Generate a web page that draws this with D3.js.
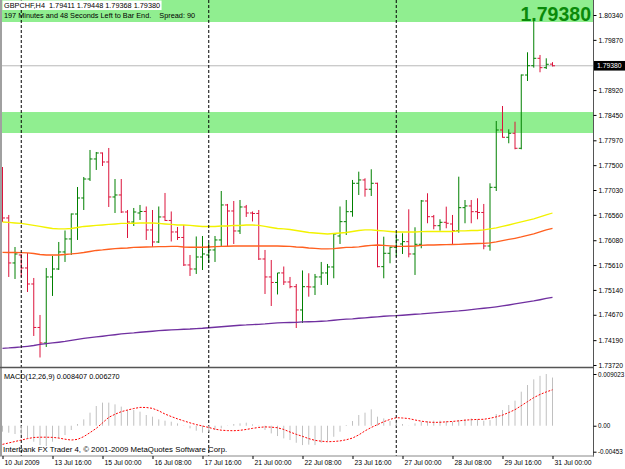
<!DOCTYPE html>
<html>
<head>
<meta charset="UTF-8">
<title>GBPCHF,H4</title>
<script src="https://cdn.jsdelivr.net/npm/d3@7"></script>
<style>
  body { margin: 0; background: #fff; }
  svg text { font-family: "Liberation Sans", Arial, sans-serif; white-space: pre; }
</style>
</head>
<body>
<svg id="chart" width="625" height="469"></svg>
<script>
// H4 bars, 10 Jul 2009 .. 31 Jul 2009 00:00 (89 bars)
var opens = [1.77371,1.76501,1.75650,1.75801,1.75555,1.75252,1.74430,1.74137,1.75385,1.75536,
  1.75858,1.76104,1.76576,1.76879,1.77238,1.77617,1.77730,1.77560,1.76898,1.76936,
  1.76614,1.76425,1.76595,1.76624,1.76274,1.76047,1.76520,1.76454,1.76236,1.76132,
  1.75612,1.75536,1.75763,1.75801,1.75896,1.76085,1.76747,1.76633,1.76255,1.76709,
  1.76595,1.76586,1.75725,1.75385,1.75281,1.75461,1.75290,1.75201,1.74761,1.75201,
  1.75196,1.75385,1.75461,1.75574,1.76160,1.76431,1.76620,1.77157,1.77220,1.77044,
  1.77157,1.75580,1.75833,1.75947,1.76009,1.76053,1.75820,1.76003,1.76822,1.76525,
  1.76355,1.76419,1.76387,1.76261,1.76696,1.76728,1.76620,1.76605,1.75971,1.77081,
  1.78165,1.78027,1.78103,1.77819,1.79205,1.79381,1.79521,1.79344,1.79411];
var highs = [1.77465,1.76558,1.75952,1.75820,1.75839,1.75366,1.74666,1.75555,1.75782,1.76047,
  1.76264,1.76586,1.77087,1.77276,1.77787,1.77749,1.77740,1.77825,1.77238,1.77238,
  1.76652,1.76690,1.76747,1.76718,1.76652,1.76718,1.76974,1.76624,1.76331,1.76368,
  1.75801,1.76151,1.76160,1.76028,1.76160,1.77011,1.76766,1.76822,1.76841,1.76747,
  1.76624,1.76652,1.75896,1.75706,1.75461,1.75583,1.75385,1.75252,1.75508,1.75455,
  1.75442,1.75669,1.75631,1.76211,1.76718,1.76841,1.77220,1.77377,1.77251,1.77422,
  1.77168,1.76147,1.75958,1.76211,1.76211,1.76665,1.76325,1.76841,1.76968,1.76558,
  1.76476,1.76715,1.76558,1.77282,1.76841,1.76841,1.76873,1.76766,1.77157,1.78335,
  1.78619,1.78178,1.78322,1.79215,1.79635,1.80246,1.79584,1.79521,1.79448];
var lows = [1.76425,1.75385,1.75347,1.75385,1.75101,1.74269,1.73862,1.74061,1.75026,1.75517,
  1.75669,1.75801,1.76085,1.76652,1.77201,1.77409,1.77484,1.76709,1.76595,1.76595,
  1.76122,1.76349,1.76463,1.76085,1.75952,1.76028,1.76444,1.76056,1.76085,1.75593,
  1.75404,1.75442,1.75517,1.75650,1.75669,1.75971,1.75971,1.76009,1.76198,1.76520,
  1.76435,1.75706,1.75063,1.74836,1.75054,1.75234,1.75171,1.74420,1.74515,1.75012,
  1.75044,1.75234,1.75234,1.75360,1.76009,1.76179,1.76525,1.76936,1.76904,1.76917,
  1.75568,1.75360,1.75644,1.75769,1.75820,1.75757,1.75423,1.75928,1.76401,1.76287,
  1.76261,1.76306,1.76009,1.76223,1.76401,1.76401,1.76476,1.75909,1.75882,1.77011,
  1.78020,1.77914,1.77800,1.77800,1.79092,1.79344,1.79257,1.79319,1.79368];
var closes = [1.76501,1.75650,1.75820,1.75555,1.75252,1.74430,1.74137,1.75385,1.75536,1.75858,
  1.76104,1.76576,1.76879,1.77238,1.77617,1.77730,1.77560,1.76898,1.76936,1.76614,
  1.76425,1.76614,1.76624,1.76274,1.76047,1.76520,1.76454,1.76236,1.76132,1.75612,
  1.75536,1.75763,1.75820,1.75896,1.76085,1.76747,1.76633,1.76255,1.76709,1.76595,
  1.76586,1.75725,1.75385,1.75281,1.75461,1.75290,1.75201,1.74761,1.75201,1.75196,
  1.75385,1.75461,1.75574,1.76198,1.76431,1.76620,1.77157,1.77220,1.77044,1.77157,
  1.75580,1.75833,1.75947,1.76085,1.76053,1.75820,1.76003,1.76822,1.76525,1.76355,
  1.76419,1.76401,1.76261,1.76696,1.76728,1.76620,1.76605,1.75971,1.77081,1.78165,
  1.78027,1.78103,1.77819,1.79205,1.79381,1.79521,1.79344,1.79408,1.79380];

// moving averages (yellow, orange-red, purple)
var maYellow = [1.76425,1.76416,1.76406,1.76397,1.76378,1.76359,1.76340,1.76321,1.76302,1.76293,
  1.76293,1.76302,1.76321,1.76340,1.76349,1.76359,1.76368,1.76378,1.76387,1.76397,
  1.76397,1.76401,1.76406,1.76406,1.76406,1.76397,1.76387,1.76378,1.76368,1.76368,
  1.76359,1.76349,1.76340,1.76340,1.76340,1.76349,1.76349,1.76359,1.76359,1.76368,
  1.76368,1.76359,1.76340,1.76321,1.76302,1.76293,1.76283,1.76264,1.76245,1.76226,
  1.76217,1.76207,1.76198,1.76207,1.76217,1.76226,1.76245,1.76264,1.76274,1.76274,
  1.76264,1.76255,1.76245,1.76236,1.76236,1.76236,1.76236,1.76242,1.76245,1.76245,
  1.76245,1.76245,1.76245,1.76255,1.76255,1.76264,1.76264,1.76274,1.76293,1.76312,
  1.76340,1.76368,1.76397,1.76425,1.76454,1.76482,1.76520,1.76558,1.76595];
var maOrange = [1.75852,1.75848,1.75848,1.75844,1.75839,1.75829,1.75810,1.75801,1.75801,1.75801,
  1.75810,1.75820,1.75833,1.75848,1.75867,1.75886,1.75896,1.75909,1.75920,1.75928,
  1.75933,1.75943,1.75947,1.75952,1.75956,1.75958,1.75958,1.75962,1.75962,1.75952,
  1.75947,1.75947,1.75947,1.75952,1.75958,1.75962,1.75966,1.75971,1.75971,1.75971,
  1.75971,1.75971,1.75971,1.75971,1.75971,1.75966,1.75962,1.75952,1.75947,1.75933,
  1.75924,1.75915,1.75915,1.75920,1.75933,1.75943,1.75947,1.75956,1.75971,1.75981,
  1.75990,1.75984,1.75975,1.75966,1.75962,1.75966,1.75971,1.75981,1.75990,1.75990,
  1.75994,1.75996,1.75999,1.76003,1.76009,1.76013,1.76018,1.76022,1.76028,1.76047,
  1.76071,1.76094,1.76117,1.76142,1.76170,1.76198,1.76236,1.76274,1.76306];
var maPurple = [1.74036,1.74042,1.74051,1.74061,1.74074,1.74089,1.74108,1.74123,1.74137,1.74150,
  1.74165,1.74184,1.74203,1.74222,1.74237,1.74250,1.74264,1.74279,1.74292,1.74307,
  1.74317,1.74326,1.74339,1.74349,1.74358,1.74369,1.74377,1.74383,1.74390,1.74396,
  1.74401,1.74409,1.74415,1.74424,1.74434,1.74443,1.74453,1.74462,1.74472,1.74477,
  1.74485,1.74490,1.74496,1.74506,1.74515,1.74521,1.74524,1.74528,1.74534,1.74538,
  1.74540,1.74547,1.74553,1.74566,1.74577,1.74587,1.74594,1.74604,1.74613,1.74623,
  1.74632,1.74642,1.74648,1.74653,1.74661,1.74670,1.74680,1.74685,1.74695,1.74704,
  1.74714,1.74723,1.74733,1.74742,1.74755,1.74767,1.74780,1.74793,1.74806,1.74821,
  1.74837,1.74855,1.74874,1.74893,1.74912,1.74931,1.74954,1.74978,1.75001];

// MACD(12,26,9)
var macdMain = [-0.00104,-0.00122,-0.00145,-0.00163,-0.00221,-0.00279,-0.00338,-0.00355,-0.00279,-0.00221,
  -0.00163,-0.00075,0.00030,0.00111,0.00228,0.00344,0.00403,0.00403,0.00373,0.00333,
  0.00274,0.00274,0.00245,0.00187,0.00158,0.00111,0.00088,0.00070,0.00041,0.00005,
  -0.00046,-0.00087,-0.00122,-0.00104,-0.00075,-0.00046,-0.00005,0.00030,0.00041,0.00053,
  0.00024,-0.00010,-0.00075,-0.00134,-0.00180,-0.00221,-0.00250,-0.00297,-0.00338,-0.00330,
  -0.00338,-0.00297,-0.00268,-0.00192,-0.00104,0.00012,0.00082,0.00187,0.00228,0.00286,
  0.00158,0.00128,0.00082,0.00053,0.00030,0.00003,0.00041,0.00070,0.00082,0.00088,
  0.00088,0.00082,0.00070,0.00099,0.00111,0.00128,0.00111,0.00088,0.00099,0.00204,
  0.00274,0.00361,0.00437,0.00594,0.00710,0.00809,0.00870,0.00902,0.008407];
var macdSignal = [-0.00325,-0.00300,-0.00275,-0.00250,-0.00225,-0.00205,-0.00200,-0.00200,-0.00203,-0.00215,
  -0.00235,-0.00250,-0.00238,-0.00190,-0.00120,-0.00046,0.00050,0.00146,0.00200,0.00245,
  0.00274,0.00300,0.00320,0.00318,0.00303,0.00260,0.00204,0.00160,0.00120,0.00085,
  0.00050,0.00020,-0.00005,-0.00030,-0.00060,-0.00078,-0.00085,-0.00087,-0.00080,-0.00065,
  -0.00046,-0.00030,-0.00020,-0.00025,-0.00035,-0.00065,-0.00110,-0.00150,-0.00185,-0.00225,
  -0.00255,-0.00270,-0.00279,-0.00275,-0.00265,-0.00245,-0.00215,-0.00160,-0.00090,-0.00030,
  0.00020,0.00070,0.00110,0.00140,0.00135,0.00125,0.00100,0.00080,0.00065,0.00058,
  0.00060,0.00068,0.00075,0.00085,0.00097,0.00105,0.00110,0.00112,0.00130,0.00155,
  0.00185,0.00230,0.00280,0.00350,0.00420,0.00490,0.00545,0.00590,0.00627];

// axis labels
var timeTicks = [0, 8, 16, 24, 32, 40, 48, 56, 64, 72, 80, 88];
var timeLabels = ["10 Jul 2009", "13 Jul 16:00", "15 Jul 00:00", "16 Jul 08:00", "17 Jul 16:00", "21 Jul 00:00",
  "22 Jul 08:00", "23 Jul 16:00", "27 Jul 00:00", "28 Jul 08:00", "29 Jul 16:00", "31 Jul 00:00"];
var priceTicks = [1.80340, 1.79870, 1.78920, 1.78450, 1.77970, 1.77500, 1.77030, 1.76560,
  1.76080, 1.75610, 1.75140, 1.74670, 1.74190, 1.73720];
var macdTicks = [0.009023, 0, -0.00453];
var macdTickLabels = ["0.009023", "0.00", "-0.00453"];

// price zones (rectangles) and week separators (bar index)
var zones = [[1.80208, 1.80700], [1.78108, 1.78505]];
var separators = [3, 33, 63];
var lastPrice = 1.79380;

var svg = d3.select("#chart");
svg.append("rect").attr("width", 625).attr("height", 469).attr("fill", "#fff");

var x = d3.scaleLinear().domain([0, opens.length - 1]).range([2.5, 552.5]);
var y = d3.scaleLinear().domain([1.73682, 1.80624]).range([367, 0]);
var ym = d3.scaleLinear().domain([-0.00453, 0.009023]).range([451.7, 374]);

var defs = svg.append("defs");
defs.append("clipPath").attr("id", "clipMain").append("rect")
    .attr("x", 2).attr("y", 0).attr("width", 591).attr("height", 367);
defs.append("clipPath").attr("id", "clipMacd").append("rect")
    .attr("x", 2).attr("y", 368.5).attr("width", 591).attr("height", 87);

var main = svg.append("g").attr("clip-path", "url(#clipMain)");

// green zones
main.selectAll("rect.zone").data(zones).join("rect")
    .attr("class", "zone")
    .attr("x", 2).attr("width", 591)
    .attr("y", d => y(d[1]))
    .attr("height", d => y(d[0]) - y(d[1]))
    .attr("fill", "#90EE90");

// week separators through both windows
svg.selectAll("line.sep").data(separators).join("line")
    .attr("class", "sep")
    .attr("x1", d => x(d)).attr("x2", d => x(d))
    .attr("y1", 0).attr("y2", 456)
    .attr("stroke", "#000").attr("stroke-dasharray", "3,2");

// current price line
main.append("line")
    .attr("x1", 2).attr("x2", 593)
    .attr("y1", y(lastPrice)).attr("y2", y(lastPrice))
    .attr("stroke", "#B8B8B8");

// OHLC bars
var bars = opens.map((o, i) => ({i: i, o: o, h: highs[i], l: lows[i], c: closes[i]}));
var bg = main.selectAll("g.bar").data(bars).join("g")
    .attr("class", "bar")
    .attr("stroke", d => d.c >= d.o ? "#008000" : "#DC143C");
bg.append("line")
    .attr("x1", d => x(d.i)).attr("x2", d => x(d.i))
    .attr("y1", d => y(d.h)).attr("y2", d => y(d.l));
bg.append("line")
    .attr("x1", d => x(d.i) - 2.5).attr("x2", d => x(d.i))
    .attr("y1", d => y(d.o)).attr("y2", d => y(d.o));
bg.append("line")
    .attr("x1", d => x(d.i)).attr("x2", d => x(d.i) + 2.5)
    .attr("y1", d => y(d.c)).attr("y2", d => y(d.c));

// moving averages
var maLine = d3.line().x((d, i) => x(i)).y(d => y(d));
[[maYellow, "#F2F200"], [maOrange, "#FF6020"], [maPurple, "#7030A0"]].forEach(function (m) {
    main.append("path").datum(m[0])
        .attr("d", maLine)
        .attr("fill", "none")
        .attr("stroke", m[1])
        .attr("stroke-width", 1.3);
});

// MACD window
var macd = svg.append("g").attr("clip-path", "url(#clipMacd)");
macd.selectAll("line.hist").data(macdMain).join("line")
    .attr("class", "hist")
    .attr("x1", (d, i) => x(i)).attr("x2", (d, i) => x(i))
    .attr("y1", ym(0)).attr("y2", d => ym(d))
    .attr("stroke", "#C0C0C0");
macd.append("path").datum(macdSignal)
    .attr("d", d3.line().x((d, i) => x(i)).y(d => ym(d)))
    .attr("fill", "none")
    .attr("stroke", "#FF0000")
    .attr("stroke-dasharray", "2,1.5");

// frame
svg.append("line").attr("x1", 1).attr("x2", 1).attr("y1", 0).attr("y2", 456)
    .attr("stroke", "#A0A0A0").attr("stroke-width", 2);
svg.append("line").attr("x1", 593.5).attr("x2", 593.5).attr("y1", 0).attr("y2", 456.5)
    .attr("stroke", "#555");
svg.append("line").attr("x1", 0).attr("x2", 594).attr("y1", 367.5).attr("y2", 367.5)
    .attr("stroke", "#555").attr("stroke-width", 1.5);
svg.append("line").attr("x1", 0).attr("x2", 594).attr("y1", 456).attr("y2", 456)
    .attr("stroke", "#888");

// axes
var axisFont = "Liberation Sans, Arial, sans-serif";
var gy = svg.append("g").attr("transform", "translate(593.5,0)")
    .call(d3.axisRight(y).tickValues(priceTicks).tickSize(3).tickSizeOuter(0).tickPadding(2)
        .tickFormat(d3.format(".5f")));
gy.select(".domain").remove();
gy.attr("font-size", 6.8).attr("font-family", axisFont);

var gm = svg.append("g").attr("transform", "translate(593.5,0)")
    .call(d3.axisRight(ym).tickValues(macdTicks).tickSize(3).tickSizeOuter(0).tickPadding(1.5)
        .tickFormat((d, i) => macdTickLabels[i]));
gm.select(".domain").remove();
gm.attr("font-size", 6.3).attr("font-family", axisFont);

var gx = svg.append("g").attr("transform", "translate(0,456)")
    .call(d3.axisBottom(x).tickValues(timeTicks).tickSize(3).tickPadding(1)
        .tickFormat((d, i) => timeLabels[i]));
gx.select(".domain").remove();
gx.attr("font-size", 6.8).attr("font-family", axisFont);
gx.selectAll("text").attr("text-anchor", "start").attr("x", 1.5);

// current price marker on the scale
svg.append("rect").attr("x", 594).attr("y", y(lastPrice) - 4.8)
    .attr("width", 31).attr("height", 9.6).attr("fill", "#000");
svg.append("text").attr("x", 597).attr("y", y(lastPrice)).attr("dy", "0.34em")
    .attr("font-size", 6.8).attr("fill", "#fff").text(d3.format(".5f")(lastPrice));

// texts
var head = svg.append("text").attr("x", 4).attr("y", 8).attr("font-size", 7.3).attr("fill", "#000")
    .text("GBPCHF,H4  " + [opens[88], highs[88], lows[88], closes[88]].map(d3.format(".5f")).join(" "));
var hb = head.node().getBBox();
svg.insert("rect", function () { return head.node(); })
    .attr("x", hb.x - 1.5).attr("y", hb.y - 0.5)
    .attr("width", hb.width + 3).attr("height", hb.height + 0.5)
    .attr("fill", "#fff");

svg.append("text").attr("x", 4).attr("y", 18).attr("font-size", 7.3).attr("fill", "#000")
    .text("197 Minutes and 48 Seconds Left to Bar End.    Spread: 90");

svg.append("text").attr("x", 591).attr("y", 21).attr("text-anchor", "end")
    .attr("font-size", 19.5).attr("font-weight", "bold").attr("fill", "#0A8A0A")
    .text(d3.format(".5f")(lastPrice));

svg.append("text").attr("x", 4).attr("y", 378.5).attr("font-size", 7.3).attr("fill", "#000")
    .text("MACD(12,26,9) " + d3.format(".6f")(macdMain[88]) + " " + d3.format(".6f")(macdSignal[88]));

svg.append("text").attr("x", 3).attr("y", 452).attr("font-size", 7.8).attr("fill", "#000")
    .text("Interbank FX Trader 4, \u00A9 2001-2009 MetaQuotes Software Corp.");
</script>
</body>
</html>
